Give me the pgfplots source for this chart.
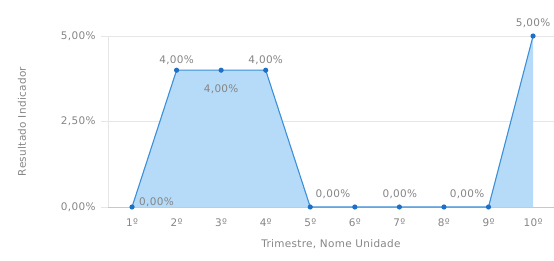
\documentclass[border=0pt]{standalone}
\usepackage{fontspec}
\setmainfont{DejaVu Sans}[LetterSpace=3]
\usepackage{pgfplots}
\pgfplotsset{compat=1.18}
\definecolor{txt}{HTML}{858585}
\definecolor{areafill}{HTML}{B5DBF8}
\definecolor{linec}{HTML}{3C8FD8}
\definecolor{markc}{HTML}{1E6FC6}
\definecolor{gridc}{HTML}{E6E6E6}
\definecolor{basec}{HTML}{C8C8C8}
\begin{document}
\begin{tikzpicture}
\useasboundingbox (0,0) rectangle (554bp,261bp);
\begin{axis}[
  at={(108bp,54bp)}, anchor=south west,
  scale only axis, width=446bp, height=171bp,
  xmin=0.461, xmax=10.47, ymin=0, ymax=5,
  clip=false,
  axis x line*=bottom, axis y line*=left,
  x axis line style={draw=basec, -}, y axis line style={draw=gridc, -},
  ytick={0,2.5,5}, yticklabels={{0,00\%},{2,50\%},{5,00\%}},
  xtick={1,...,10}, xticklabels={1º,2º,3º,4º,5º,6º,7º,8º,9º,10º},
  ymajorgrids, grid style={draw=gridc, line width=0.8pt},
  tick align=outside, major tick length=7bp,
  ytick style={draw=gridc, line width=0.8pt}, xtick style={draw=none},
  tick label style={font=\fontsize{10.5}{12}\selectfont, text=txt},
  yticklabel style={xshift=-2bp},
  xticklabel style={yshift=-1bp},
  xlabel={Trimestre, Nome Unidade}, ylabel={Resultado Indicador},
  label style={font=\fontsize{10.5}{12}\selectfont, text=txt},
  xlabel style={at={(rel axis cs:0.5,0)}, anchor=center, yshift=-37bp},
  ylabel style={at={(rel axis cs:0,0.5)}, anchor=center, yshift=86bp},
]
\addplot[fill=areafill, draw=none] coordinates {(1,0)(2,4)(3,4)(4,4)(5,0)(6,0)(7,0)(8,0)(9,0)(10,5)} \closedcycle;
\addplot[linec, line width=1.1pt, mark=*, mark size=2pt, mark options={fill=markc, draw=markc}] coordinates {(1,0)(2,4)(3,4)(4,4)(5,0)(6,0)(7,0)(8,0)(9,0)(10,5)};
\begin{scope}[every node/.style={font=\fontsize{10.5}{12}\selectfont, text=txt, inner sep=0pt}]
\node at (axis cs:2,4) [yshift=10bp] {4,00\%};
\node at (axis cs:3,4) [yshift=-19bp] {4,00\%};
\node at (axis cs:4,4) [yshift=10bp] {4,00\%};
\node[anchor=west] at (axis cs:1,0) [xshift=7bp, yshift=5bp] {0,00\%};
\node at (axis cs:5.51,0) [yshift=13bp] {0,00\%};
\node at (axis cs:7.01,0) [yshift=13bp] {0,00\%};
\node at (axis cs:8.52,0) [yshift=13bp] {0,00\%};
\node at (axis cs:10,5) [yshift=13bp] {5,00\%};
\end{scope}
\end{axis}
\end{tikzpicture}
\end{document}
